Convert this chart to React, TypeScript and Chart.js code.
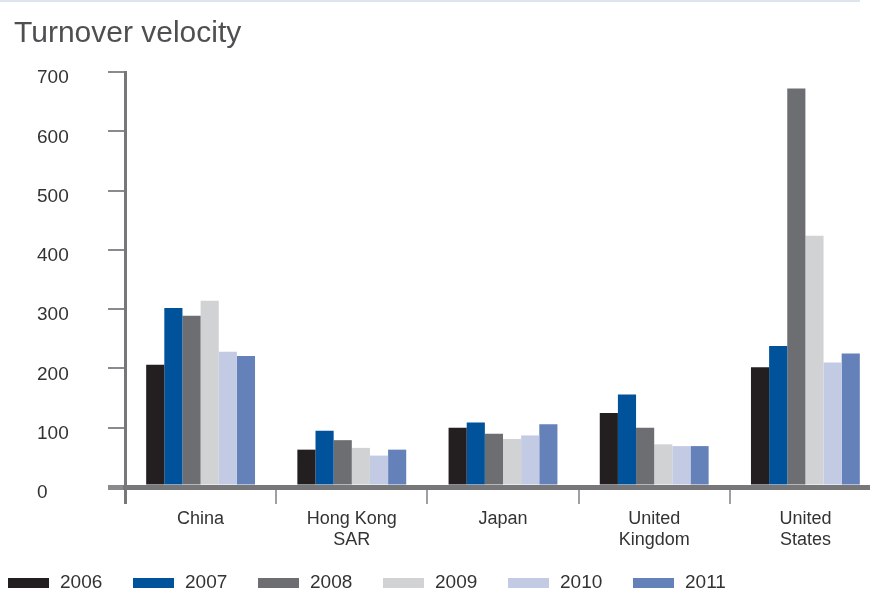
import React, { useEffect, useRef } from "react";
import { Chart, registerables } from "chart.js";

Chart.register(...registerables);

const chartTitle = "Turnover velocity";
const categories = [["China"], ["Hong Kong", "SAR"], ["Japan"], ["United", "Kingdom"], ["United", "States"]];
const years = ["2006", "2007", "2008", "2009", "2010", "2011"];
const v2006 = [206, 63, 100, 125, 202];
const v2007 = [302, 95, 109, 156, 238];
const v2008 = [289, 79, 90, 100, 672];
const v2009 = [314, 66, 81, 72, 424];
const v2010 = [228, 53, 87, 69, 210];
const v2011 = [221, 63, 106, 69, 225];
const seriesValues = [v2006, v2007, v2008, v2009, v2010, v2011];
const colors = ["#231f20", "#00529b", "#6d6e71", "#d1d2d4", "#c3cbe4", "#6581ba"];
const yMin = 0;
const yMax = 700;
const yStep = 100;

const FONT = "'Liberation Sans', Arial, Helvetica, sans-serif";

const overlayPlugin = {
  id: "overlay",
  afterDraw(chart: any) {
    const ctx = chart.ctx;
    ctx.save();
    // faint top rule
    ctx.fillStyle = "#dde4ee";
    ctx.fillRect(0, 0, 860, 2);
    // title
    ctx.fillStyle = "#4f4f51";
    ctx.font = `30px ${FONT}`;
    ctx.textAlign = "left";
    ctx.textBaseline = "alphabetic";
    ctx.fillText(chartTitle, 14, 42);
    // legend
    ctx.font = `19px ${FONT}`;
    ctx.textBaseline = "middle";
    chart.data.datasets.forEach((ds: any, i: number) => {
      const x = 8 + i * 125;
      ctx.fillStyle = ds.backgroundColor;
      ctx.fillRect(x, 578, 41, 10);
      ctx.fillStyle = "#333333";
      ctx.fillText(ds.label, x + 52, 583);
    });
    ctx.restore();
  },
};

export default function App() {
  const ref = useRef<HTMLCanvasElement | null>(null);

  useEffect(() => {
    if (!ref.current) return;
    const chart = new Chart(ref.current, {
      type: "bar",
      data: {
        labels: categories as any,
        datasets: years.map((y, i) => ({
          label: y,
          data: seriesValues[i],
          backgroundColor: colors[i],
          borderWidth: 0,
          barPercentage: 1,
          categoryPercentage: 0.72,
        })),
      },
      options: {
        animation: false,
        responsive: false,
        layout: { padding: { left: 37, top: 72, right: 4, bottom: 0 } },
        plugins: {
          legend: { display: false },
          title: { display: false },
          tooltip: { enabled: false },
        },
        scales: {
          x: {
            offset: true,
            grid: {
              offset: true,
              drawOnChartArea: false,
              drawTicks: true,
              tickLength: 17,
              color: (c: any) => (c.index === 0 ? "#77777a" : "#a0a0a2"),
              lineWidth: (c: any) => (c.index === 0 ? 3 : 2),
            },
            border: { display: true, color: "#77777a", width: 5 },
            ticks: {
              color: "#333333",
              font: { size: 18, family: FONT },
              padding: 4,
              maxRotation: 0,
              autoSkip: false,
            },
            afterFit: (s: any) => {
              s.height = 103;
            },
          },
          y: {
            min: yMin,
            max: yMax,
            ticks: {
              stepSize: yStep,
              crossAlign: "far",
              color: "#333333",
              font: { size: 19, family: FONT },
              labelOffset: 6,
            },
            grid: {
              drawOnChartArea: false,
              tickLength: 17,
              color: "#8a8a8c",
              lineWidth: (c: any) => (c.tick && c.tick.value === 0 ? 5 : 2),
            },
            border: { display: true, color: "#77777a", width: 3 },
            afterFit: (s: any) => {
              s.width = 88;
            },
          },
        },
      },
      plugins: [overlayPlugin],
    });
    return () => chart.destroy();
  }, []);

  return (
    <div style={{ position: "absolute", left: 0, top: 0, width: 870, height: 590, overflow: "hidden", background: "#fff" }}>
      <canvas ref={ref} width={885} height={590} style={{ display: "block" }} />
    </div>
  );
}
